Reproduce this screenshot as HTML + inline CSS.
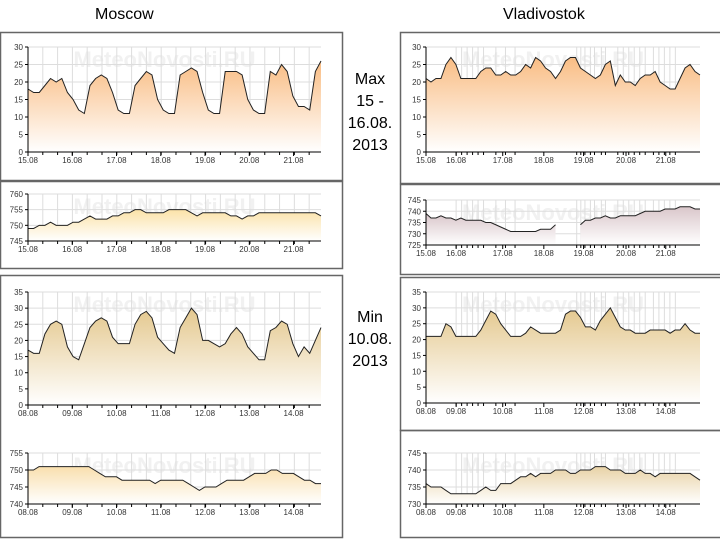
<!DOCTYPE html>
<html><head><meta charset="utf-8">
<style>
html,body{margin:0;padding:0;background:#fff;}
body{width:720px;height:540px;overflow:hidden;position:relative;font-family:"Liberation Sans",sans-serif;}
.t{position:absolute;font-size:16px;color:#000;}
.mid{position:absolute;font-size:16px;text-align:center;width:60px;line-height:22px;}
</style></head>
<body>
<div class="t" style="left:95px;top:6px;">Moscow</div>
<div class="t" style="left:503px;top:6px;">Vladivostok</div>
<div class="mid" style="left:340px;top:69px;">Max<br>15 -<br>16.08.<br>2013</div>
<div class="mid" style="left:340px;top:307px;">Min<br>10.08.<br>2013</div>
<svg id="svg" width="720" height="540" style="position:absolute;left:0;top:0"></svg>
<script>
// ---- data ----
const mMaxDays = ["15.08","16.08","17.08","18.08","19.08","20.08","21.08"];
const mMinDays = ["08.08","09.08","10.08","11.08","12.08","13.08","14.08"];
const mMaxTemp = [18,17,17,19,21,20,21,17,15,12,11,19,21,22,21,17,12,11,11,19,21,23,22,15,12,11,11,22,23,24,23,17,12,11,11,23,23,23,22,15,12,11,11,23,22,25,23,16,13,13,12,23,26];
const mMaxPres = [749,749,750,750,751,750,750,750,751,751,752,753,752,752,752,753,753,754,754,755,755,754,754,754,754,755,755,755,755,754,753,754,754,754,754,754,753,753,752,753,753,754,754,754,754,754,754,754,754,754,754,754,753];
const vMaxTemp = [21,20,21,21,25,27,25,21,21,21,21,23,24,24,22,22,23,22,22,23,25,24,27,26,24,23,21,23,26,27,27,24,23,22,21,22,25,26,19,22,20,20,19,21,22,22,23,20,19,18,18,21,24,25,23,22];
const vMaxPres = [739,737,737,738,737,737,736,737,736,736,736,736,735,735,734,733,732,731,731,731,731,731,731,732,732,732,734,null,null,null,null,734,736,736,737,737,738,737,737,738,738,738,738,739,740,740,740,740,741,741,741,742,742,742,741,741];
const mMinTemp = [17,16,16,22,25,26,25,18,15,14,19,24,26,27,26,21,19,19,19,25,28,29,27,21,19,17,16,24,27,30,28,20,20,19,18,19,22,24,22,18,16,14,14,23,24,26,25,19,15,18,16,20,24];
const mMinPres = [750,750,751,751,751,751,751,751,751,751,751,751,750,749,748,748,748,747,747,747,747,747,747,746,747,747,747,747,747,746,745,744,745,745,745,746,747,747,747,747,748,749,749,749,750,750,749,749,749,748,747,747,746,746];
const vMinTemp = [21,21,21,21,25,24,21,21,21,21,21,23,26,29,28,25,23,21,21,21,22,24,23,22,22,22,22,23,28,29,29,27,24,24,23,26,28,30,27,24,23,23,22,22,22,23,23,23,23,22,23,23,25,23,22,22];
const vMinPres = [736,735,735,735,734,733,733,733,733,733,733,734,735,734,734,736,736,736,737,738,738,739,738,739,739,739,740,740,740,739,739,740,740,740,741,741,741,740,740,740,739,739,739,740,739,739,738,739,739,739,739,739,739,739,738,737];
const tempTicksMax = [0,5,10,15,20,25,30];
const tempTicksMin = [0,5,10,15,20,25,30,35];
const presTicksM1 = [745,750,755,760];
const presTicksV1 = [725,730,735,740,745];
const presTicksM2 = [740,745,750,755];
const presTicksV2 = [730,735,740,745];
const vladLabelPos = [0,1.1,2.8,4.3,5.75,7.3,8.75];  // label positions in day units (Vladivostok axis spans 10 units)

const NS="http://www.w3.org/2000/svg";
const svg=document.getElementById('svg');
function mk(tag,attrs,parent){const e=document.createElementNS(NS,tag);for(const k in attrs)e.setAttribute(k,attrs[k]);(parent||svg).appendChild(e);return e;}

// panel borders
function box(x,y,w,h,name){const r=mk('rect',{x:x+.5,y:y+.5,width:w,height:h,fill:'none',stroke:'#666','stroke-width':1.5});

}
box(0,32,342,148,'moscow-max-temp-panel');
box(0,181,342,87,'moscow-max-pressure-panel');
box(0,275,342,262,'moscow-min-panel');
box(400,32,322,151,'vlad-max-temp-panel');
box(400,184,322,90,'vlad-max-pressure-panel');
box(400,277,322,153,'vlad-min-temp-panel');
box(400,430,322,107,'vlad-min-pressure-panel');

let gid=0;
function chart(c){
  const g=mk('g',{});
  
  
  const ymin=c.ticks[0],ymax=c.ticks[c.ticks.length-1];
  const n=c.vals.length;
  const X=i=>c.l+(c.r-c.l)*i/(n-1);
  const Y=v=>c.b-(c.b-c.t)*(v-ymin)/(ymax-ymin);
  const id='gr'+(gid++);
  const d=mk('defs',{},g);const lg=mk('linearGradient',{id:id,x1:0,y1:0,x2:0,y2:1},d);
  mk('stop',{offset:'0','stop-color':c.col},lg);mk('stop',{offset:'1','stop-color':'#ffffff'},lg);
  // watermark
  const w=mk('text',{x:(c.l+c.r)/2-10,y:c.t+20,'font-size':22,'font-weight':'bold',fill:'#f1f1f1','text-anchor':'middle','font-family':'Liberation Sans, sans-serif'},g);
  w.textContent='MeteoNovosti.RU';
  
  
  // gridlines horizontal
  c.ticks.forEach(v=>{mk('line',{x1:c.l,x2:c.r,y1:Y(v),y2:Y(v),stroke:'#dddddd'},g);});
  // vertical gridlines
  c.vgrid.forEach(f=>{const x=c.l+(c.r-c.l)*f;mk('line',{x1:x,x2:x,y1:c.t,y2:c.b,stroke:'#dddddd'},g);
    mk('line',{x1:x,x2:x,y1:c.b,y2:c.b+3,stroke:'#000'},g);});
  // area segments (break on null)
  let segs=[],cur=[];
  c.vals.forEach((v,i)=>{if(v===null){if(cur.length)segs.push(cur);cur=[];}else cur.push([X(i),Y(v)]);});
  if(cur.length)segs.push(cur);
  segs.forEach(s=>{
    const p='M'+s[0][0]+','+c.b+' '+s.map(q=>'L'+q[0]+','+q[1]).join(' ')+' L'+s[s.length-1][0]+','+c.b+'Z';
    const a=mk('path',{d:p,fill:'url(#'+id+')',stroke:'none'},g);
    
    
    const ln=mk('polyline',{points:s.map(q=>q.join(',')).join(' '),fill:'none',stroke:'#222','stroke-width':1},g);
    
    
  });
  // axes
  mk('line',{x1:c.l,x2:c.r,y1:c.b,y2:c.b,stroke:'#000'},g);
  mk('line',{x1:c.l,x2:c.l,y1:c.t,y2:c.b,stroke:'#000'},g);
  c.ticks.forEach(v=>{mk('line',{x1:c.l-3,x2:c.l,y1:Y(v),y2:Y(v),stroke:'#000'},g);
    const t=mk('text',{x:c.l-5,y:Y(v)+3,'font-size':8,'text-anchor':'end',fill:'#333'},g);t.textContent=v;});
  c.labels.forEach((lab,k)=>{const x=c.l+(c.r-c.l)*c.lpos[k]/c.span;
    mk('line',{x1:x,x2:x,y1:c.b,y2:c.b+4,stroke:'#000'},g);
    const t=mk('text',{x:x,y:c.b+11,'font-size':8,'text-anchor':'middle',fill:'#333'},g);t.textContent=lab;});
}
const mPos=[0,1,2,3,4,5,6];
const mGrid=[];for(let k=1;k<20;k++)mGrid.push(k/(6.6*3));
const vGrid=[0.11,0.13,0.15,0.17,0.19,0.21,0.255,0.29,0.325,0.55,0.565,0.58,0.6,0.615,0.64,0.655,0.7,0.72,0.74,0.76,0.78,0.8,0.83,0.85,0.87,0.89,0.91];
chart({name:'moscow-max-temp-chart',vals:mMaxTemp,ticks:tempTicksMax,l:28,r:321,t:47,b:152,col:'#f9bd84',labels:mMaxDays,lpos:mPos,span:6.62,vgrid:mGrid});
chart({name:'moscow-max-pressure-chart',vals:mMaxPres,ticks:presTicksM1,l:28,r:321,t:194,b:241,col:'#fbe2a8',labels:mMaxDays,lpos:mPos,span:6.62,vgrid:mGrid});
chart({name:'moscow-min-temp-chart',vals:mMinTemp,ticks:tempTicksMin,l:28,r:321,t:292,b:405,col:'#e4c88e',labels:mMinDays,lpos:mPos,span:6.62,vgrid:mGrid});
chart({name:'moscow-min-pressure-chart',vals:mMinPres,ticks:presTicksM2,l:28,r:321,t:453,b:504,col:'#f9dfae',labels:mMinDays,lpos:mPos,span:6.62,vgrid:mGrid});
chart({name:'vlad-max-temp-chart',vals:vMaxTemp,ticks:tempTicksMax,l:426,r:700,t:47,b:152,col:'#f9bd84',labels:mMaxDays,lpos:vladLabelPos,span:10,vgrid:vGrid});
chart({name:'vlad-max-pressure-chart',vals:vMaxPres,ticks:presTicksV1,l:426,r:700,t:200,b:245,col:'#d9c6ca',labels:mMaxDays,lpos:vladLabelPos,span:10,vgrid:vGrid});
chart({name:'vlad-min-temp-chart',vals:vMinTemp,ticks:tempTicksMin,l:426,r:700,t:292,b:403,col:'#e4c88e',labels:mMinDays,lpos:vladLabelPos,span:10,vgrid:vGrid});
chart({name:'vlad-min-pressure-chart',vals:vMinPres,ticks:presTicksV2,l:426,r:700,t:453,b:504,col:'#e8d2a6',labels:mMinDays,lpos:vladLabelPos,span:10,vgrid:vGrid});
</script>
</body></html>
